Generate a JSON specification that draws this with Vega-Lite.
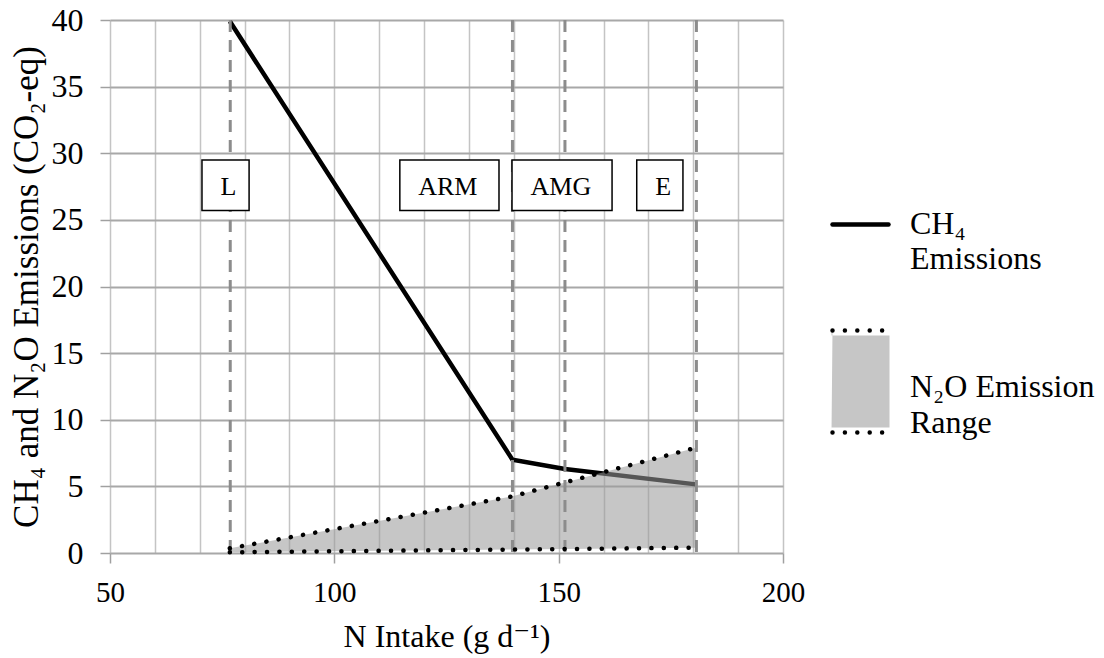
{
  "$schema": "https://vega.github.io/schema/vega-lite/v6.json",
  "width": 673,
  "height": 533,
  "autosize": {"type": "none"},
  "padding": {"left": 110, "top": 20, "right": 321, "bottom": 105},
  "background": "white",
  "config": {
    "view": {"stroke": null},
    "font": "'Liberation Serif', 'Times New Roman', Tinos, 'DejaVu Serif', serif",
    "axis": {"labelFont": "'Liberation Serif', 'Times New Roman', Tinos, 'DejaVu Serif', serif", "titleFont": "'Liberation Serif', 'Times New Roman', Tinos, 'DejaVu Serif', serif", "labelColor": "black", "titleColor": "black", "titleFontWeight": "normal"},
    "legend": {"labelFont": "'Liberation Serif', 'Times New Roman', Tinos, 'DejaVu Serif', serif", "labelColor": "black"},
    "text": {"font": "'Liberation Serif', 'Times New Roman', Tinos, 'DejaVu Serif', serif"}
  },
  "datasets": {
    "ch4": [
      {"x": 76.7, "y": 39.9, "s": "CH4"},
      {"x": 139.7, "y": 7.0, "s": "CH4"},
      {"x": 151.4, "y": 6.3, "s": "CH4"},
      {"x": 180.6, "y": 5.15, "s": "CH4"}
    ],
    "n2o": [
      {"x": 76.7, "lo": 0.05, "hi": 0.35, "s": "N2O"},
      {"x": 139.7, "lo": 0.26, "hi": 4.25, "s": "N2O"},
      {"x": 151.4, "lo": 0.3, "hi": 5.3, "s": "N2O"},
      {"x": 180.6, "lo": 0.4, "hi": 7.9, "s": "N2O"}
    ],
    "markers": [
      {"x": 76.8, "label": "L"},
      {"x": 139.7, "label": "ARM"},
      {"x": 151.4, "label": "AMG"},
      {"x": 180.7, "label": "E"}
    ],
    "boxes": [
      {"label": "L", "tx": 76.4, "ty": 26.85, "bx1": 70.5, "bx2": 81.0, "by1": 25.7, "by2": 29.5},
      {"label": "ARM", "tx": 125.3, "ty": 26.85, "bx1": 114.6, "bx2": 136.7, "by1": 25.7, "by2": 29.5},
      {"label": "AMG", "tx": 150.5, "ty": 26.85, "bx1": 139.6, "bx2": 161.9, "by1": 25.7, "by2": 29.5},
      {"label": "E", "tx": 173.3, "ty": 26.85, "bx1": 167.4, "bx2": 177.7, "by1": 25.7, "by2": 29.5}
    ]
  },
  "encoding": {
    "x": {
      "field": "x",
      "type": "quantitative",
      "title": "N Intake (g d⁻¹)",
      "scale": {"domain": [50, 200], "nice": false, "zero": false},
      "axis": {
        "values": [50, 60, 70, 80, 90, 100, 110, 120, 130, 140, 150, 160, 170, 180, 190, 200],
        "grid": true,
        "gridColor": "#c4c4c4",
        "gridWidth": 1.5,
        "domain": false,
        "ticks": true,
        "tickSize": 10,
        "tickWidth": 1.5,
        "tickColor": {"condition": {"test": "datum.value % 50 === 0", "value": "#a0a0a0"}, "value": "transparent"},
        "labelExpr": "datum.value % 50 === 0 ? datum.label : ''",
        "labelFontSize": 29,
        "labelPadding": 15,
        "labelFlush": false,
        "labelOverlap": false,
        "titleFontSize": 32,
        "titlePadding": 14
      }
    }
  },
  "layer": [
    {
      "data": {"name": "ch4"},
      "mark": {"type": "line", "strokeWidth": 4.5},
      "encoding": {
        "y": {
          "field": "y",
          "type": "quantitative",
          "title": "CH₄ and N₂O  Emissions (CO₂-eq)",
          "scale": {"domain": [0, 40], "nice": false},
          "axis": {
            "values": [0, 5, 10, 15, 20, 25, 30, 35, 40],
            "grid": true,
            "gridColor": "#a8a8a8",
            "gridWidth": 1.8,
            "domain": false,
            "tickSize": 10,
            "tickWidth": 1.5,
            "tickColor": "#a0a0a0",
            "labelFontSize": 32,
            "labelPadding": 17,
            "labelFlush": false,
            "titleFontSize": 35,
            "titlePadding": 7
          }
        },
        "stroke": {
          "field": "s",
          "type": "nominal",
          "scale": {"range": ["black"]},
          "legend": {
            "title": null,
            "orient": "none",
            "legendX": 720,
            "legendY": 174,
            "padding": 0,
            "symbolType": "stroke",
            "symbolSize": 3136,
            "symbolStrokeWidth": 4.5,
            "symbolStrokeColor": "black",
            "labelOffset": 19,
            "labelFontSize": 32,
            "labelLimit": 400,
            "labelBaseline": "alphabetic",
            "labelExpr": "['CH₄', 'Emissions']",
            "encode": {
              "labels": {"update": {"dy": {"value": 9}, "baseline": {"value": "alphabetic"}, "lineHeight": {"value": 35}}},
              "symbols": {"update": {"strokeCap": {"value": "round"}}}
            }
          }
        }
      }
    },
    {
      "data": {"name": "n2o"},
      "mark": {"type": "area", "opacity": 0.56, "fill": "#999999"},
      "encoding": {
        "y": {"field": "hi", "type": "quantitative", "title": "CH₄ and N₂O  Emissions (CO₂-eq)"},
        "y2": {"field": "lo"}
      }
    },
    {
      "data": {"name": "n2o"},
      "mark": {"type": "area", "opacity": 0},
      "encoding": {
        "y": {"field": "hi", "type": "quantitative", "title": "CH₄ and N₂O  Emissions (CO₂-eq)"},
        "y2": {"field": "lo"},
        "fill": {
          "field": "s",
          "type": "nominal",
          "scale": {"range": ["#c6c6c6"]},
          "legend": {
            "title": null,
            "orient": "none",
            "legendX": 698,
            "legendY": 309,
            "padding": 0,
            "symbolType": "M-0.56,-1.02H0.58H-0.58V-0.92H0.58V0.92H-0.58V1.02H0.58H-0.58Z",
            "symbolSize": 10000,
            "symbolFillColor": "#c6c6c6",
            "symbolStrokeColor": "black",
            "symbolStrokeWidth": 4.5,
            "symbolOpacity": 1,
            "symbolDash": [0.01, 12.39, 0.01, 12.39, 0.01, 12.39, 0.01, 12.39, 0.01, 284.39, 0.01, 12.39, 0.01, 12.39, 0.01, 12.39, 0.01, 12.39, 0.01, 300],
            "labelOffset": -3,
            "labelFontSize": 32,
            "labelLimit": 400,
            "labelBaseline": "alphabetic",
            "labelExpr": "['N₂O Emission', 'Range']",
            "encode": {
              "labels": {"update": {"dy": {"value": 15}, "baseline": {"value": "alphabetic"}, "lineHeight": {"value": 36}}},
              "symbols": {"update": {
                "opacity": {"value": 1},
                "fillOpacity": {"value": 1},
                "stroke": {"value": "black"},
                "strokeOpacity": {"value": 1},
                "strokeWidth": {"value": 4.5},
                "strokeCap": {"value": "round"},
                "strokeDash": {"value": [0.01, 12.39, 0.01, 12.39, 0.01, 12.39, 0.01, 12.39, 0.01, 284.39, 0.01, 12.39, 0.01, 12.39, 0.01, 12.39, 0.01, 12.39, 0.01, 300]}
              }}
            }
          }
        }
      }
    },
    {
      "data": {"name": "markers"},
      "mark": {"type": "rule", "strokeDash": [12, 8], "strokeWidth": 3, "color": "#8c8c8c"},
      "encoding": {}
    },
    {
      "data": {"name": "n2o"},
      "mark": {"type": "line", "strokeDash": [0.1, 12.3], "strokeCap": "round", "strokeWidth": 4.5, "color": "black"},
      "encoding": {
        "y": {"field": "hi", "type": "quantitative", "title": "CH₄ and N₂O  Emissions (CO₂-eq)"}
      }
    },
    {
      "data": {"name": "n2o"},
      "mark": {"type": "line", "strokeDash": [0.1, 12.3], "strokeCap": "round", "strokeWidth": 4.5, "color": "black"},
      "encoding": {
        "y": {"field": "lo", "type": "quantitative", "title": "CH₄ and N₂O  Emissions (CO₂-eq)"}
      }
    },
    {
      "data": {"name": "boxes"},
      "mark": {"type": "rect", "fill": "white", "stroke": "black", "strokeWidth": 1.5},
      "encoding": {
        "x": {"field": "bx1", "type": "quantitative", "title": "N Intake (g d⁻¹)"},
        "x2": {"field": "bx2"},
        "y": {"field": "by1", "type": "quantitative", "title": "CH₄ and N₂O  Emissions (CO₂-eq)"},
        "y2": {"field": "by2"}
      }
    },
    {
      "data": {"name": "boxes"},
      "mark": {"type": "text", "fontSize": 26, "baseline": "alphabetic", "align": "center", "color": "black"},
      "encoding": {
        "x": {"field": "tx", "type": "quantitative", "title": "N Intake (g d⁻¹)"},
        "y": {"field": "ty", "type": "quantitative", "title": "CH₄ and N₂O  Emissions (CO₂-eq)"},
        "text": {"field": "label"}
      }
    }
  ]
}
